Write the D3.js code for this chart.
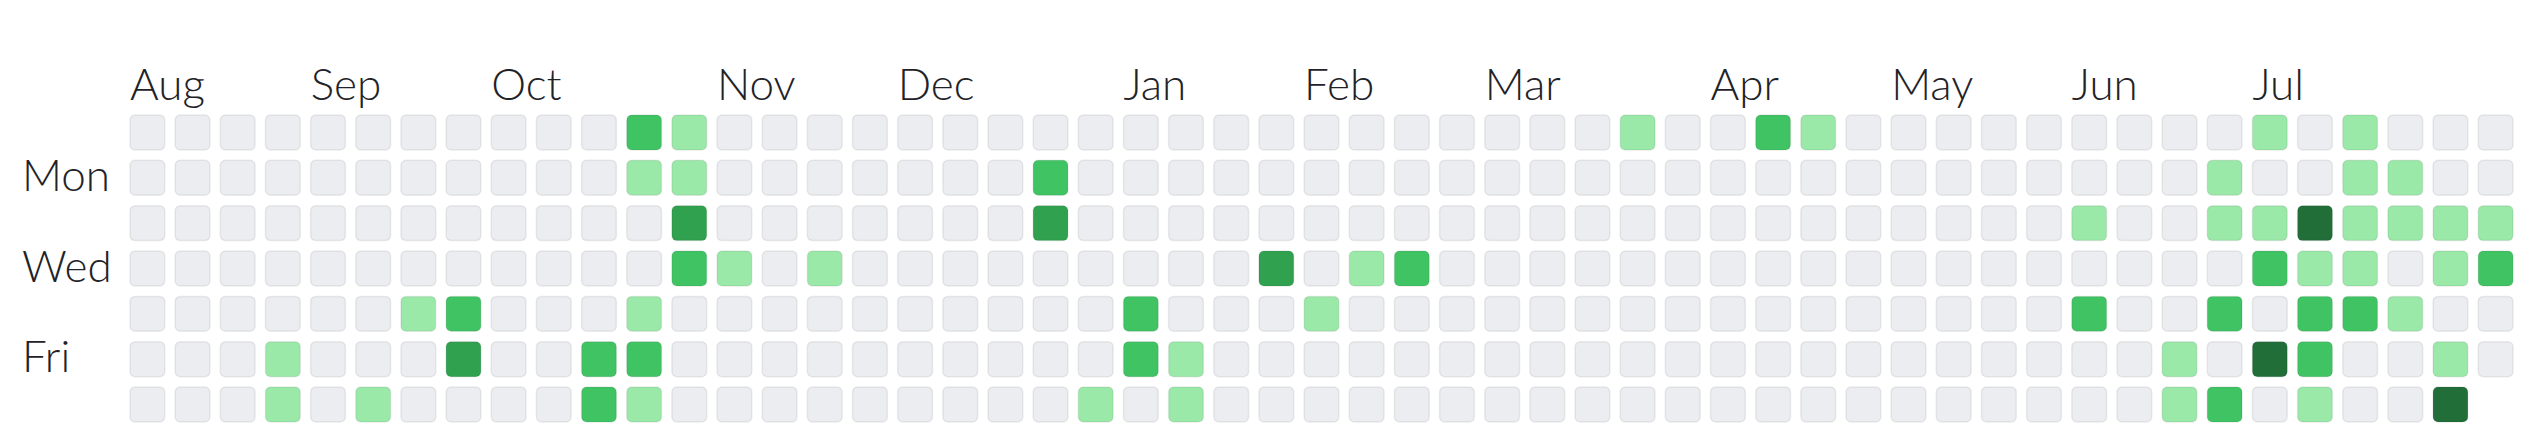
<!DOCTYPE html>
<html>
<head>
<meta charset="utf-8">
<script src="https://cdn.jsdelivr.net/npm/d3@7"></script>
<style>
  html, body { margin: 0; padding: 0; background: #ffffff; }
  svg { display: block; }
  text { font-family: "Lato", "Open Sans", sans-serif; font-weight: 300; fill: #1f2328; }
</style>
</head>
<body>
<svg id="chart" width="2536" height="440"></svg>
<script>
// Contribution levels per week (Sun..Sat), 0 = none .. 4 = most
const weekLevels = [
  [0,0,0,0,0,0,0], [0,0,0,0,0,0,0], [0,0,0,0,0,0,0], [0,0,0,0,0,1,1],
  [0,0,0,0,0,0,0], [0,0,0,0,0,0,1], [0,0,0,0,1,0,0], [0,0,0,0,2,3,0],
  [0,0,0,0,0,0,0], [0,0,0,0,0,0,0], [0,0,0,0,0,2,2], [2,1,0,0,1,2,1],
  [1,1,3,2,0,0,0], [0,0,0,1,0,0,0], [0,0,0,0,0,0,0], [0,0,0,1,0,0,0],
  [0,0,0,0,0,0,0], [0,0,0,0,0,0,0], [0,0,0,0,0,0,0], [0,0,0,0,0,0,0],
  [0,2,3,0,0,0,0], [0,0,0,0,0,0,1], [0,0,0,0,2,2,0], [0,0,0,0,0,1,1],
  [0,0,0,0,0,0,0], [0,0,0,3,0,0,0], [0,0,0,0,1,0,0], [0,0,0,1,0,0,0],
  [0,0,0,2,0,0,0], [0,0,0,0,0,0,0], [0,0,0,0,0,0,0], [0,0,0,0,0,0,0],
  [0,0,0,0,0,0,0], [1,0,0,0,0,0,0], [0,0,0,0,0,0,0], [0,0,0,0,0,0,0],
  [2,0,0,0,0,0,0], [1,0,0,0,0,0,0], [0,0,0,0,0,0,0], [0,0,0,0,0,0,0],
  [0,0,0,0,0,0,0], [0,0,0,0,0,0,0], [0,0,0,0,0,0,0], [0,0,1,0,2,0,0],
  [0,0,0,0,0,0,0], [0,0,0,0,0,1,1], [0,1,1,0,2,0,2], [1,0,1,2,0,4,0],
  [0,0,4,1,2,2,1], [1,1,1,1,2,0,0], [0,1,1,0,1,0,0], [0,0,1,1,0,1,4],
  [0,0,1,2,0,0]
];
const monthLabels = ["Aug","Sep","Oct","Nov","Dec","Jan","Feb","Mar","Apr","May","Jun","Jul"];
const monthStartWeeks = [0,4,8,13,17,22,26,30,35,39,43,47];
const dayLabels = ["Mon","Wed","Fri"];
const dayLabelRows = [1,3,5];
const levelColors = ["#ebedf0","#9be9a8","#40c463","#30a14e","#216e39"];

const svg = d3.select("#chart");
const weeks = d3.range(weekLevels.length);
const days = d3.range(7);

const x = d3.scaleBand().domain(weeks).range([130, 2513]).paddingInner(0.23).paddingOuter(0);
const y = d3.scaleBand().domain(days).range([115, 422]).paddingInner(0.23).paddingOuter(0);
const color = d3.scaleOrdinal().domain([0,1,2,3,4]).range(levelColors);

const cells = [];
weekLevels.forEach((w, wi) => w.forEach((lv, di) => cells.push({week: wi, day: di, level: lv})));

svg.append("g").selectAll("rect").data(cells).join("rect")
  .attr("x", d => x(d.week))
  .attr("y", d => y(d.day))
  .attr("width", x.bandwidth())
  .attr("height", y.bandwidth())
  .attr("rx", 5).attr("ry", 5)
  .attr("fill", d => color(d.level))
  .attr("stroke", "rgba(27,31,35,0.08)")
  .attr("stroke-width", 1.5);

svg.append("g").selectAll("text").data(monthLabels).join("text")
  .attr("x", (d, i) => x(monthStartWeeks[i]))
  .attr("y", 100)
  .attr("font-size", 44)
  .text(d => d);

svg.append("g").selectAll("text").data(dayLabels).join("text")
  .attr("x", 22)
  .attr("y", (d, i) => y(dayLabelRows[i]) + y.bandwidth() / 2 + 13)
  .attr("font-size", 44)
  .text(d => d);
</script>
</body>
</html>
